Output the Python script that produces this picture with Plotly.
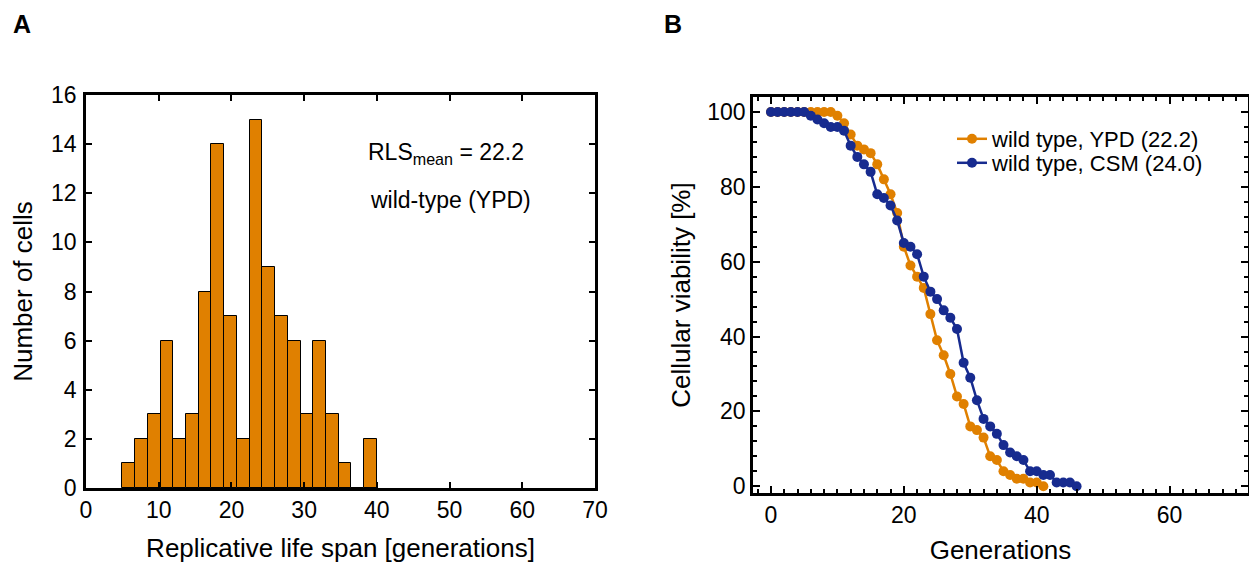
import plotly.graph_objects as go

# ---------------- data ----------------
# Panel A: histogram of replicative life span (bins of width 1.75 starting at 5)
bin_start = 5.0
bin_width = 1.75
cell_counts = [1, 2, 3, 6, 2, 3, 8, 14, 7, 2, 15, 9, 7, 6, 3, 6, 3, 1, 0, 2]

# Panel B: viability curves
gen_ypd = list(range(0, 42))
viab_ypd = [100, 100, 100, 100, 100, 100, 100, 100, 100, 100,
            99, 97, 94, 91, 90, 89, 86, 82, 78, 73,
            64, 59, 56, 53, 46, 39, 35, 30, 24, 22,
            16, 15, 13, 8, 7, 4, 3, 2, 2, 1,
            1, 0]
gen_csm = list(range(0, 47))
viab_csm = [100, 100, 100, 100, 100, 100, 99, 98, 97, 96,
            96, 95, 91, 88, 86, 84, 78, 77, 75, 71,
            65, 64, 62, 56, 52, 50, 47, 45, 42, 33,
            29, 23, 18, 16, 14, 11, 9, 8, 7, 4,
            4, 3, 3, 1, 1, 1, 0]

hist_xticks = [0, 10, 20, 30, 40, 50, 60, 70]
hist_yticks = [0, 2, 4, 6, 8, 10, 12, 14, 16]
viab_xticks = [0, 20, 40, 60]
viab_yticks = [0, 20, 40, 60, 80, 100]

ORANGE = "#E08000"
BLUE = "#172B8F"
FONT = "Liberation Sans, Arial, Helvetica, sans-serif"

W, H = 1257, 563
OFF = 8  # page body margin offset

bin_centers = [bin_start + bin_width * (i + 0.5) for i in range(len(cell_counts))]

fig = go.Figure()

fig.add_trace(go.Bar(
    x=bin_centers, y=cell_counts, width=bin_width,
    marker=dict(color=ORANGE, line=dict(color="black", width=1)),
    xaxis="x", yaxis="y", showlegend=False,
))

fig.add_trace(go.Scatter(
    x=gen_ypd, y=viab_ypd, mode="lines+markers",
    name="wild type, YPD (22.2)",
    line=dict(color=ORANGE, width=2.5),
    marker=dict(color=ORANGE, size=10),
    xaxis="x2", yaxis="y2", legend="legend",
))
fig.add_trace(go.Scatter(
    x=gen_csm, y=viab_csm, mode="lines+markers",
    name="wild type, CSM (24.0)",
    line=dict(color=BLUE, width=2.5),
    marker=dict(color=BLUE, size=10),
    xaxis="x2", yaxis="y2", legend="legend2",
))

def px_x(p):
    return (p - OFF) / W

def px_y(p):
    return 1 - (p - OFF) / H

axis_common = dict(
    showline=True, linecolor="black", linewidth=2.5, mirror="ticks",
    ticks="inside", tickcolor="black", tickwidth=2,
    showgrid=False, zeroline=False, automargin=False,
    tickfont=dict(family=FONT, size=23, color="black"),
)
TITLE_FONT = dict(family=FONT, size=26, color="black")
LEG_FONT = dict(family=FONT, size=22, color="black")

fig.update_layout(
    width=W, height=H,
    margin=dict(l=0, r=0, t=0, b=0, autoexpand=False),
    paper_bgcolor="white", plot_bgcolor="white",
    font=dict(family=FONT, color="black"),
    bargap=0,
    xaxis=dict(
        domain=[px_x(86), px_x(595)], range=[0, 70],
        tickvals=hist_xticks, ticklen=6,
        title=dict(text="Replicative life span [generations]",
                   font=TITLE_FONT, standoff=17),
        anchor="y", **axis_common),
    yaxis=dict(
        domain=[px_y(488), px_y(95)], range=[0, 16],
        tickvals=hist_yticks, ticklen=6, ticklabelstandoff=2,
        title=dict(text="Number of cells", font=TITLE_FONT, standoff=14),
        anchor="x", **axis_common),
    xaxis2=dict(
        domain=[px_x(753), px_x(1248)], range=[-2.7, 71.8],
        tickvals=viab_xticks, ticklen=7,
        minor=dict(dtick=2, tick0=0, ticks="inside", ticklen=4,
                   tickwidth=2, tickcolor="black", showgrid=False),
        title=dict(text="Generations", font=TITLE_FONT, standoff=14),
        anchor="y2", **axis_common),
    yaxis2=dict(
        domain=[px_y(493), px_y(97)], range=[-1.8, 104],
        tickvals=viab_yticks, ticklen=7,
        minor=dict(dtick=4, tick0=0, ticks="inside", ticklen=4,
                   tickwidth=2, tickcolor="black", showgrid=False),
        title=dict(text="Cellular viability [%]", font=TITLE_FONT, standoff=10),
        anchor="x2", **axis_common),
    legend=dict(
        x=px_x(952), y=px_y(118), xanchor="left", yanchor="top",
        bgcolor="rgba(0,0,0,0)", borderwidth=0, font=LEG_FONT,
    ),
    legend2=dict(
        x=px_x(952), y=px_y(142), xanchor="left", yanchor="top",
        bgcolor="rgba(0,0,0,0)", borderwidth=0, font=LEG_FONT,
    ),
    annotations=[
        dict(text="<b>A</b>", x=px_x(22), y=px_y(24), xref="paper", yref="paper",
             xanchor="center", yanchor="middle",
             showarrow=False, font=dict(family=FONT, size=25)),
        dict(text="<b>B</b>", x=px_x(673), y=px_y(24), xref="paper", yref="paper",
             xanchor="center", yanchor="middle",
             showarrow=False, font=dict(family=FONT, size=25)),
        dict(text="RLS<sub>mean</sub> = 22.2", x=px_x(366), y=px_y(154),
             xref="paper", yref="paper", xanchor="left", yanchor="middle",
             showarrow=False, font=dict(family=FONT, size=23)),
        dict(text="wild-type (YPD)", x=px_x(368), y=px_y(200),
             xref="paper", yref="paper", xanchor="left", yanchor="middle",
             showarrow=False, font=dict(family=FONT, size=23)),
    ],
)

fig.write_html("out.html")
